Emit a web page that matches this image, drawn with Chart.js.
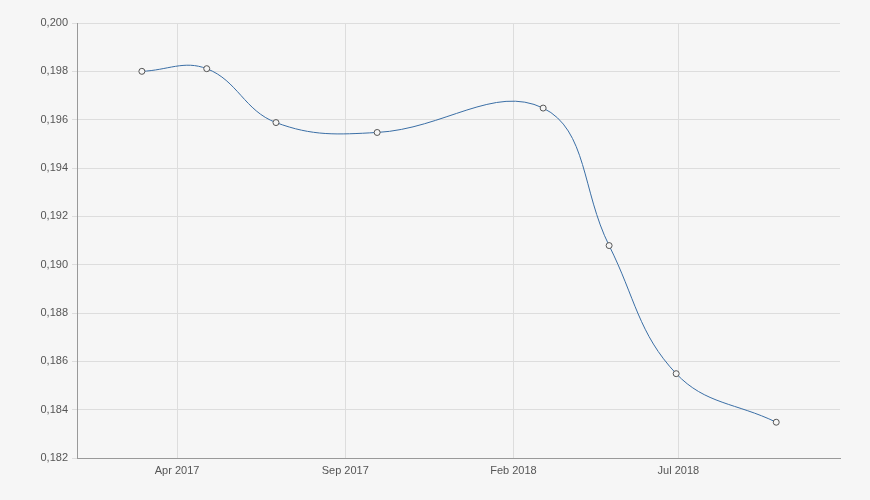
<!DOCTYPE html>
<html>
<head>
<meta charset="utf-8">
<script src="https://cdn.jsdelivr.net/npm/chart.js@4"></script>
<style>
  html, body { margin: 0; padding: 0; background: #f6f6f6; }
  #wrap { width: 870px; height: 500px; }
</style>
</head>
<body>
<div id="wrap"><canvas id="chart"></canvas></div>
<script>
var dates = ['2017-02-28', '2017-04-28', '2017-06-30', '2017-09-30', '2018-02-28', '2018-04-29', '2018-06-29', '2018-09-28'];
var values = [0.1980, 0.19811, 0.19588, 0.19547, 0.19648, 0.19079, 0.18549, 0.18348];

var tickDates = ['2017-04-01', '2017-09-01', '2018-02-01', '2018-07-01'];
var tickLabels = ['Apr 2017', 'Sep 2017', 'Feb 2018', 'Jul 2018'];

var xMin = Date.parse('2016-12-31');
var xMax = Date.parse('2018-11-25');

var points = dates.map(function (d, i) {
    return { x: Date.parse(d), y: values[i] };
});
var tickVals = tickDates.map(function (d) { return Date.parse(d); });

var ctx = document.getElementById('chart').getContext('2d');

var chart = new Chart(ctx, {
    type: 'line',
    data: {
        datasets: [{
            data: points,
            borderColor: '#3a6ea5',
            borderWidth: 1,
            tension: 0.4,
            pointRadius: 3,
            pointBorderWidth: 1,
            pointBorderColor: '#555555',
            pointBackgroundColor: '#f6f6f6',
            fill: false
        }]
    },
    options: {
        responsive: true,
        maintainAspectRatio: false,
        animation: false,
        layout: { padding: { top: 23, right: 30, left: 0, bottom: 0 } },
        plugins: {
            legend: { display: false },
            tooltip: { enabled: false }
        },
        scales: {
            x: {
                type: 'linear',
                min: xMin,
                max: xMax,
                afterBuildTicks: function (scale) {
                    scale.ticks = tickVals.map(function (v) { return { value: v }; });
                },
                afterFit: function (scale) { scale.height = 42; },
                grid: { color: '#dddddd', drawTicks: false },
                border: { color: '#999999' },
                ticks: {
                    padding: 6,
                    maxRotation: 0,
                    color: '#555555',
                    font: { family: 'Liberation Sans, Arial', size: 11 },
                    callback: function (v) {
                        var i = tickVals.indexOf(v);
                        return i >= 0 ? tickLabels[i] : '';
                    }
                }
            },
            y: {
                min: 0.182,
                max: 0.2,
                afterFit: function (scale) { scale.width = 77; },
                grid: { color: '#dddddd', tickLength: 5 },
                border: { color: '#999999' },
                ticks: {
                    stepSize: 0.002,
                    padding: 4,
                    color: '#555555',
                    font: { family: 'Liberation Sans, Arial', size: 11 },
                    callback: function (v) { return v.toFixed(3).replace('.', ','); }
                }
            }
        }
    }
});
</script>
</body>
</html>
